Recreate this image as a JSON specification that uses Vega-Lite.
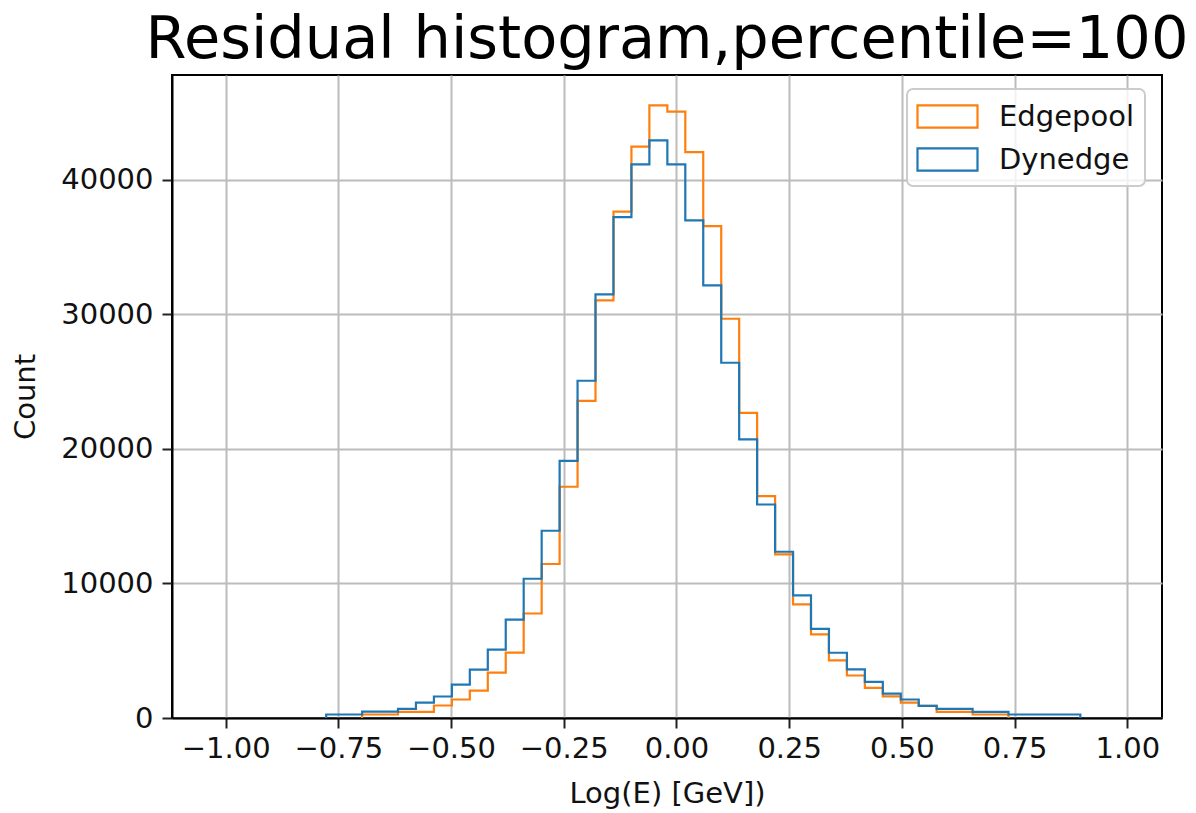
{
  "$schema": "https://vega.github.io/schema/vega-lite/v6.json",
  "width": 990,
  "height": 643,
  "autosize": {"type": "none"},
  "padding": {"left": 172, "top": 75, "right": 34, "bottom": 95},
  "background": "white",
  "config": {
    "font": "DejaVu Sans",
    "view": {"stroke": "black", "strokeWidth": 2},
    "axis": {
      "labelFont": "DejaVu Sans", "labelFontSize": 29, "labelColor": "#111",
      "titleFont": "DejaVu Sans", "titleFontSize": 29, "titleFontWeight": "normal", "titleColor": "#111",
      "tickSize": 10, "tickWidth": 2, "tickColor": "#222",
      "domainColor": "black", "domainWidth": 2,
      "grid": true, "gridColor": "#bcbcbc", "gridWidth": 2,
      "labelFlush": false, "labelOverlap": false, "labelPadding": 6
    }
  },
  "title": {"text": "Residual histogram,percentile=100", "font": "DejaVu Sans", "fontSize": 59, "fontWeight": "normal", "color": "black", "anchor": "middle", "offset": 5},
  "data": {"values": [
    {"m":"Edgepool","i":0,"x":-0.6973,"c":0},
    {"m":"Edgepool","i":1,"x":-0.6973,"c":260},
    {"m":"Edgepool","i":2,"x":-0.6575,"c":260},
    {"m":"Edgepool","i":3,"x":-0.6177,"c":461},
    {"m":"Edgepool","i":4,"x":-0.5779,"c":461},
    {"m":"Edgepool","i":5,"x":-0.538,"c":929},
    {"m":"Edgepool","i":6,"x":-0.4982,"c":1375},
    {"m":"Edgepool","i":7,"x":-0.4584,"c":2030},
    {"m":"Edgepool","i":8,"x":-0.4185,"c":3370},
    {"m":"Edgepool","i":9,"x":-0.3787,"c":4860},
    {"m":"Edgepool","i":10,"x":-0.3389,"c":7770},
    {"m":"Edgepool","i":11,"x":-0.299,"c":11450},
    {"m":"Edgepool","i":12,"x":-0.2592,"c":17190},
    {"m":"Edgepool","i":13,"x":-0.2194,"c":23580},
    {"m":"Edgepool","i":14,"x":-0.1796,"c":31050},
    {"m":"Edgepool","i":15,"x":-0.1397,"c":37640},
    {"m":"Edgepool","i":16,"x":-0.0999,"c":42470},
    {"m":"Edgepool","i":17,"x":-0.0601,"c":45540},
    {"m":"Edgepool","i":18,"x":-0.0202,"c":45070},
    {"m":"Edgepool","i":19,"x":0.0196,"c":42070},
    {"m":"Edgepool","i":20,"x":0.0594,"c":36570},
    {"m":"Edgepool","i":21,"x":0.0993,"c":29680},
    {"m":"Edgepool","i":22,"x":0.1391,"c":22690},
    {"m":"Edgepool","i":23,"x":0.1789,"c":16490},
    {"m":"Edgepool","i":24,"x":0.2188,"c":12160},
    {"m":"Edgepool","i":25,"x":0.2586,"c":8440},
    {"m":"Edgepool","i":26,"x":0.2984,"c":6210},
    {"m":"Edgepool","i":27,"x":0.3382,"c":4280},
    {"m":"Edgepool","i":28,"x":0.3781,"c":3160},
    {"m":"Edgepool","i":29,"x":0.4179,"c":2245},
    {"m":"Edgepool","i":30,"x":0.4577,"c":1610},
    {"m":"Edgepool","i":31,"x":0.4976,"c":1150},
    {"m":"Edgepool","i":32,"x":0.5374,"c":907},
    {"m":"Edgepool","i":33,"x":0.5772,"c":461},
    {"m":"Edgepool","i":34,"x":0.6171,"c":461},
    {"m":"Edgepool","i":35,"x":0.6569,"c":260},
    {"m":"Edgepool","i":36,"x":0.6967,"c":260},
    {"m":"Edgepool","i":37,"x":0.7365,"c":0},
    {"m":"Dynedge","i":0,"x":-0.777,"c":0},
    {"m":"Dynedge","i":1,"x":-0.777,"c":260},
    {"m":"Dynedge","i":2,"x":-0.7372,"c":260},
    {"m":"Dynedge","i":3,"x":-0.6973,"c":470},
    {"m":"Dynedge","i":4,"x":-0.6575,"c":470},
    {"m":"Dynedge","i":5,"x":-0.6177,"c":684},
    {"m":"Dynedge","i":6,"x":-0.5779,"c":1140},
    {"m":"Dynedge","i":7,"x":-0.538,"c":1600},
    {"m":"Dynedge","i":8,"x":-0.4982,"c":2480},
    {"m":"Dynedge","i":9,"x":-0.4584,"c":3600},
    {"m":"Dynedge","i":10,"x":-0.4185,"c":5090},
    {"m":"Dynedge","i":11,"x":-0.3787,"c":7320},
    {"m":"Dynedge","i":12,"x":-0.3389,"c":10350},
    {"m":"Dynedge","i":13,"x":-0.299,"c":13920},
    {"m":"Dynedge","i":14,"x":-0.2592,"c":19120},
    {"m":"Dynedge","i":15,"x":-0.2194,"c":25070},
    {"m":"Dynedge","i":16,"x":-0.1796,"c":31490},
    {"m":"Dynedge","i":17,"x":-0.1397,"c":37240},
    {"m":"Dynedge","i":18,"x":-0.0999,"c":41150},
    {"m":"Dynedge","i":19,"x":-0.0601,"c":42940},
    {"m":"Dynedge","i":20,"x":-0.0202,"c":41150},
    {"m":"Dynedge","i":21,"x":0.0196,"c":36990},
    {"m":"Dynedge","i":22,"x":0.0594,"c":32160},
    {"m":"Dynedge","i":23,"x":0.0993,"c":26410},
    {"m":"Dynedge","i":24,"x":0.1391,"c":20710},
    {"m":"Dynedge","i":25,"x":0.1789,"c":15870},
    {"m":"Dynedge","i":26,"x":0.2188,"c":12360},
    {"m":"Dynedge","i":27,"x":0.2586,"c":9110},
    {"m":"Dynedge","i":28,"x":0.2984,"c":6630},
    {"m":"Dynedge","i":29,"x":0.3382,"c":4850},
    {"m":"Dynedge","i":30,"x":0.3781,"c":3610},
    {"m":"Dynedge","i":31,"x":0.4179,"c":2690},
    {"m":"Dynedge","i":32,"x":0.4577,"c":1810},
    {"m":"Dynedge","i":33,"x":0.4976,"c":1375},
    {"m":"Dynedge","i":34,"x":0.5374,"c":907},
    {"m":"Dynedge","i":35,"x":0.5772,"c":684},
    {"m":"Dynedge","i":36,"x":0.6171,"c":684},
    {"m":"Dynedge","i":37,"x":0.6569,"c":461},
    {"m":"Dynedge","i":38,"x":0.6967,"c":461},
    {"m":"Dynedge","i":39,"x":0.7365,"c":260},
    {"m":"Dynedge","i":40,"x":0.7764,"c":260},
    {"m":"Dynedge","i":41,"x":0.8162,"c":260},
    {"m":"Dynedge","i":42,"x":0.856,"c":260},
    {"m":"Dynedge","i":43,"x":0.8959,"c":0}
  ]},
  "encoding": {
    "x": {"field": "x", "type": "quantitative",
      "scale": {"domain": [-1.119, 1.077], "nice": false, "zero": false},
      "axis": {"title": "Log(E) [GeV])", "values": [-1, -0.75, -0.5, -0.25, 0, 0.25, 0.5, 0.75, 1], "format": ".2f", "titlePadding": 16}},
    "y": {"field": "c", "type": "quantitative",
      "scale": {"domain": [0, 47800], "nice": false},
      "axis": {"title": "Count", "values": [0, 10000, 20000, 30000, 40000], "format": "d", "labelPadding": 9, "titlePadding": 20}},
    "order": {"field": "i", "type": "quantitative"},
    "color": {"field": "m", "type": "nominal",
      "scale": {"domain": ["Edgepool", "Dynedge"], "range": ["#ff7f0e", "#1f77b4"]},
      "legend": {
        "title": null, "orient": "none", "legendX": 735, "legendY": 14,
        "symbolType": "M-2,-0.74H2V0.74H-2Z", "symbolSize": 900, "symbolStrokeWidth": 2.2,
        "symbolFillColor": "transparent", "symbolOffset": 13,
        "labelFont": "DejaVu Sans", "labelFontSize": 29, "labelColor": "#111", "labelOffset": 35,
        "rowPadding": 11, "padding": 11,
        "fillColor": "rgba(255,255,255,0.8)", "strokeColor": "#cccccc", "cornerRadius": 6,
        "encode": {
          "symbols": {"update": {"fill": {"value": "transparent"}, "strokeWidth": {"value": 2.2}}},
          "legend": {"update": {"strokeWidth": {"value": 2}}}
        }
      }}
  },
  "layer": [
    {"transform": [{"filter": "datum.m == 'Edgepool'"}],
     "mark": {"type": "line", "interpolate": "step-after", "strokeWidth": 2.2}},
    {"transform": [{"filter": "datum.m == 'Dynedge'"}],
     "mark": {"type": "line", "interpolate": "step-after", "strokeWidth": 2.2}}
  ]
}
